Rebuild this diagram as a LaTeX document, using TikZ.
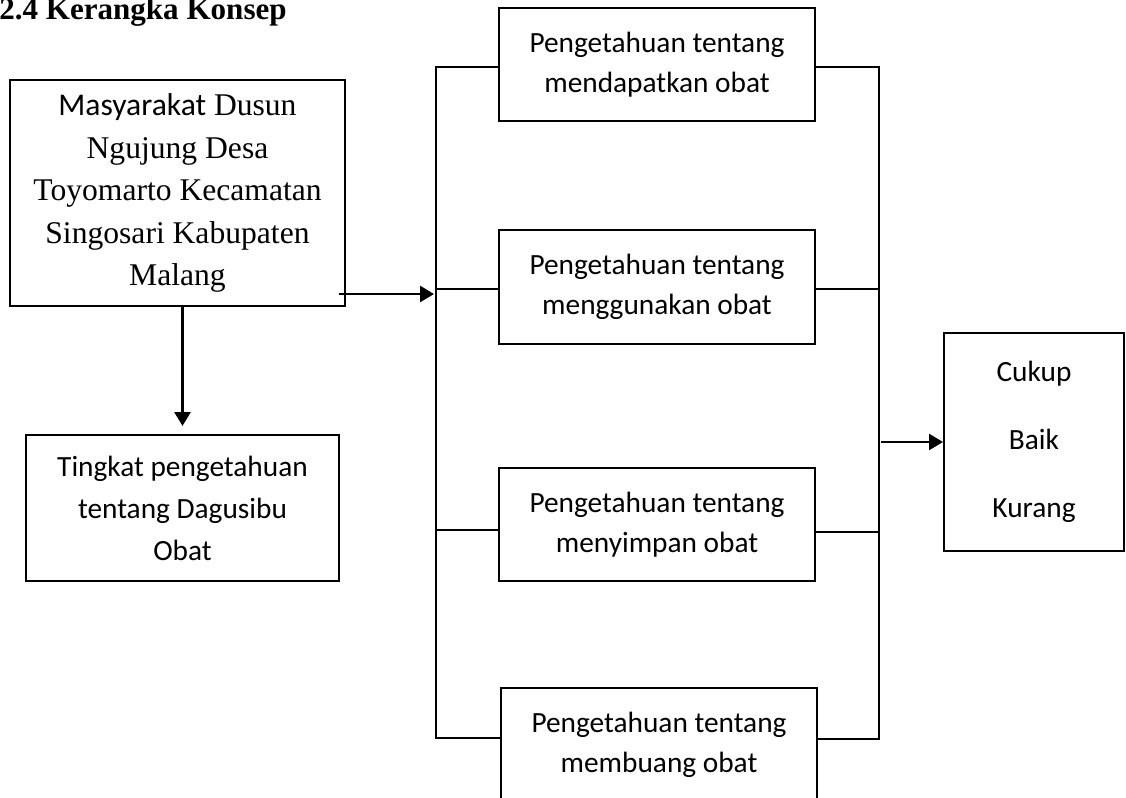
\documentclass[tikz,border=0pt]{standalone}
\usepackage{fontspec}
\setmainfont{Liberation Serif}
\newfontfamily\calib{Carlito}
\usetikzlibrary{arrows.meta}
\begin{document}
\begin{tikzpicture}[x=0.75pt,y=-0.75pt,line join=miter,>={Triangle[length=10.5pt,width=12pt]},
		box/.style={draw,line width=1.5pt,inner sep=0pt,align=center},
		pbox/.style={box,minimum width=237pt,minimum height=84.75pt,font=\calib\fontsize{22}{30}\selectfont},
		bus/.style={line width=1.5pt},
		arr/.style={->,line width=2pt}]
	\useasboundingbox[fill=white] (0,0) rectangle (1126,798);
	\node[anchor=base west,inner sep=0pt,font=\bfseries\fontsize{23.3}{28}\selectfont] (judul) at (-1,20) {2.4 Kerangka Konsep};
	\node[box,minimum width=251.25pt,minimum height=169.5pt,font=\fontsize{23.7}{31.9}\selectfont] (masy) at (177.5,193) {{\calib Masyarakat} Dusun\\Ngujung Desa\\Toyomarto Kecamatan\\Singosari Kabupaten\\Malang};
	\node[box,minimum width=234.75pt,minimum height=109.5pt,font=\calib\fontsize{22}{31.5}\selectfont] (tingkat) at (182.5,508) {Tingkat pengetahuan\\tentang Dagusibu\\Obat};
	\node[pbox] (dapat) at (657,64.5) {Pengetahuan tentang\\mendapatkan obat};
	\node[pbox] (guna) at (657,287) {Pengetahuan tentang\\menggunakan obat};
	\node[pbox] (simpan) at (657,524.5) {Pengetahuan tentang\\menyimpan obat};
	\node[pbox] (buang) at (659,744.5) {Pengetahuan tentang\\membuang obat};
	\node[box,minimum width=135pt,minimum height=163.5pt,font=\calib\fontsize{22}{51}\selectfont] (hasil) at (1034,442) {Cukup\\Baik\\Kurang};
	\foreach \i/\ya/\yb in {1/67/67,2/289/289,3/530/532,4/738/739}{
		\coordinate (kiri\i) at (436,\ya);
		\coordinate (kanan\i) at (879,\yb);
	}
	\draw[bus] (dapat.west |- kiri1) -- (kiri1) -- (kiri4) -- (buang.west |- kiri4);
	\draw[bus] (dapat.east |- kanan1) -- (kanan1) -- (kanan4) -- (buang.east |- kanan4);
	\draw[bus] (kiri2) -- (guna.west |- kiri2) (guna.east |- kanan2) -- (kanan2);
	\draw[bus] (kiri3) -- (simpan.west |- kiri3) (simpan.east |- kanan3) -- (kanan3);
	\coordinate (masuk) at (434,294);
	\coordinate (keluar) at (881,442);
	\draw[arr] (masy.east |- masuk) ++(-7,0) -- (masuk);
	\draw[arr] (tingkat.north |- masy.south) -- ([yshift=6pt]tingkat.north);
	\draw[arr] (keluar) -- (hasil.west);
\end{tikzpicture}
\end{document}
